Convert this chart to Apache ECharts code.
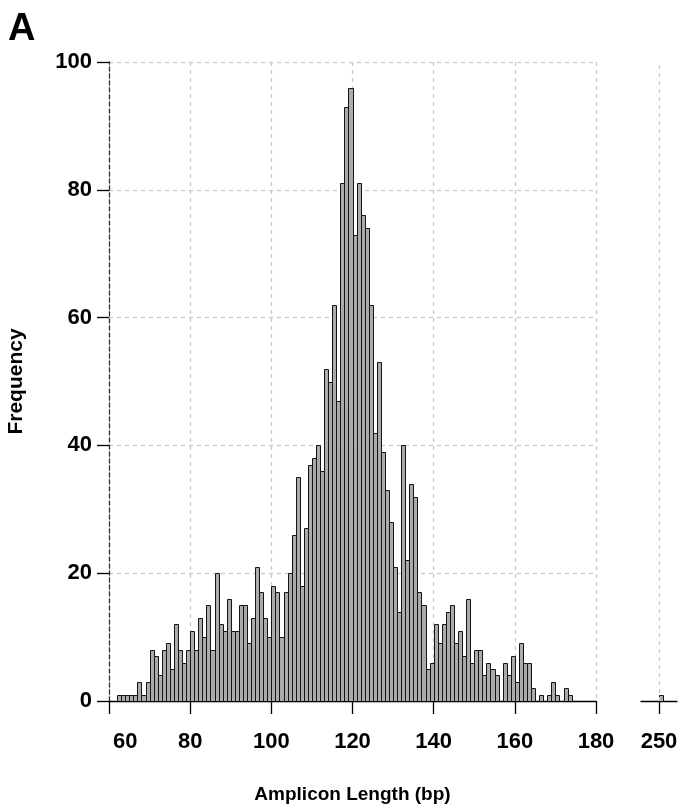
<!DOCTYPE html>
<html>
<head>
<meta charset="utf-8">
<script src="https://cdn.jsdelivr.net/npm/echarts@6/dist/echarts.min.js"></script>
<style>
  html, body { margin: 0; padding: 0; background: #ffffff; }
  #chart { width: 680px; height: 810px; }
</style>
</head>
<body>
<div id="chart"></div>
<script>
// Amplicon length bins in bp; each bin covers [length, length + 1)
const lengths = [
  62, 63, 64, 65, 66, 67, 68, 69, 70, 71, 72, 73, 74, 75, 76, 77, 78, 79,
  80, 81, 82, 83, 84, 85, 86, 87, 88, 89, 90, 91, 92, 93, 94, 95, 96, 97, 98, 99,
  100, 101, 102, 103, 104, 105, 106, 107, 108, 109, 110, 111, 112, 113, 114, 115, 116, 117, 118, 119,
  120, 121, 122, 123, 124, 125, 126, 127, 128, 129, 130, 131, 132, 133, 134, 135, 136, 137, 138, 139,
  140, 141, 142, 143, 144, 145, 146, 147, 148, 149, 150, 151, 152, 153, 154, 155, 156, 157, 158, 159,
  160, 161, 162, 163, 164, 165, 166, 167, 168, 169, 170, 171, 172, 173
];
// Number of amplicons in each length bin
const counts = [
  1, 1, 1, 1, 1, 3, 1, 3, 8, 7, 4, 8, 9, 5, 12, 8, 6, 8,
  11, 8, 13, 10, 15, 8, 20, 12, 11, 16, 11, 11, 15, 15, 9, 13, 21, 17, 13, 10,
  18, 17, 10, 17, 20, 26, 35, 18, 27, 37, 38, 40, 36, 52, 50, 62, 47, 81, 93, 96,
  73, 81, 76, 74, 62, 42, 53, 39, 33, 28, 21, 14, 40, 22, 34, 32, 17, 15, 5, 6,
  12, 9, 12, 14, 15, 9, 11, 7, 16, 6, 8, 8, 4, 6, 5, 4, 0, 6, 4, 7,
  3, 9, 6, 6, 2, 0, 1, 0, 1, 3, 1, 0, 2, 1
];
// Outlier shown after the axis break
const outlierLengths = [250];
const outlierCounts = [1];

// Axis ranges and tick spacing
const mainRange = [60, 180];
const mainStep = 20;
const breakRange = [245, 255];
const breakTicks = [250];
const freqRange = [0, 100];
const freqStep = 20;

const FONT = '"Liberation Sans", Arial, Helvetica, sans-serif';
const gridDash = [4, 4];
const gridColor = '#c9c9c9';

function renderBin(params, api) {
  const len = api.value(0);
  const n = api.value(1);
  if (!n) return null;
  const p0 = api.coord([len, 0]);
  const p1 = api.coord([len + 1, n]);
  const x0 = Math.round(p0[0]) + 0.5;
  const x1 = Math.round(p1[0]) + 0.5;
  const yTop = Math.round(p1[1]) + 0.5;
  const yBase = Math.round(p0[1]) + 0.5;
  return {
    type: 'rect',
    shape: { x: x0, y: yTop, width: x1 - x0, height: yBase - yTop },
    style: { fill: '#ababab', stroke: '#151515', lineWidth: 1 }
  };
}

const labelStyle = { color: '#000', fontFamily: FONT, fontWeight: 'bold', fontSize: 22 };
const titleStyle = { color: '#000', fontFamily: FONT, fontWeight: 'bold', fontSize: 19 };

const chart = echarts.init(document.getElementById('chart'), null, { renderer: 'canvas' });
chart.setOption({
  animation: false,
  backgroundColor: '#ffffff',
  graphic: [{
    type: 'text', left: 8, top: 11,
    style: { text: 'A', fill: '#000', font: 'bold 38px ' + FONT }
  }],
  grid: [
    { left: 109, right: 84, top: 62, bottom: 109, containLabel: false, outerBoundsMode: 'none' },
    { left: 641, right: 3, top: 62, bottom: 109, containLabel: false, outerBoundsMode: 'none' }
  ],
  xAxis: [
    {
      type: 'value', gridIndex: 0,
      min: mainRange[0], max: mainRange[1], interval: mainStep,
      axisLine: { show: true, onZero: false, lineStyle: { color: '#000', width: 1.3 } },
      axisTick: { show: true, length: 13, lineStyle: { color: '#000', width: 1.3 } },
      axisLabel: Object.assign({
        margin: 30,
        alignMinLabel: 'left',
        // first label sits just right of the frequency axis
        formatter: v => (v === mainRange[0] ? '{lead|' + v + '}' : String(v)),
        rich: { lead: Object.assign({ padding: [0, 0, 0, 4] }, labelStyle) }
      }, labelStyle),
      splitLine: { show: true, lineStyle: { color: gridColor, type: gridDash, width: 1.3 } },
      name: 'Amplicon Length (bp)', nameLocation: 'middle', nameGap: 84,
      nameTextStyle: titleStyle
    },
    {
      type: 'value', gridIndex: 1,
      min: breakRange[0], max: breakRange[1], interval: 5,
      axisLine: { show: true, onZero: false, lineStyle: { color: '#000', width: 1.3 } },
      axisTick: { show: true, length: 13, customValues: breakTicks, lineStyle: { color: '#000', width: 1.3 } },
      axisLabel: Object.assign({ margin: 30, customValues: breakTicks }, labelStyle),
      splitLine: { show: false }
    }
  ],
  yAxis: [
    {
      type: 'value', gridIndex: 0,
      min: freqRange[0], max: freqRange[1], interval: freqStep,
      axisLine: { show: true, lineStyle: { color: '#333', type: [4, 3], width: 1.3 } },
      axisTick: { show: true, length: 12, lineStyle: { color: '#000', width: 1.3 } },
      axisLabel: Object.assign({ margin: 17 }, labelStyle),
      splitLine: { show: true, lineStyle: { color: gridColor, type: gridDash, width: 1.3 } },
      name: 'Frequency', nameLocation: 'middle', nameGap: 82, nameRotate: 90,
      nameTextStyle: Object.assign({}, titleStyle, { fontSize: 21 })
    },
    {
      type: 'value', gridIndex: 1,
      min: freqRange[0], max: freqRange[1], interval: freqStep,
      show: false
    }
  ],
  series: [
    {
      type: 'custom', name: 'Amplicons', xAxisIndex: 0, yAxisIndex: 0,
      renderItem: renderBin,
      encode: { x: 0, y: 1 },
      data: lengths.map((len, i) => [len, counts[i]]),
      clip: true
    },
    {
      type: 'custom', name: 'Outlier', xAxisIndex: 1, yAxisIndex: 1,
      renderItem: renderBin,
      encode: { x: 0, y: 1 },
      data: outlierLengths.map((len, i) => [len, outlierCounts[i]]),
      markLine: {
        silent: true, symbol: ['none', 'none'], label: { show: false },
        lineStyle: { color: gridColor, type: gridDash, width: 1.3 },
        data: breakTicks.map(v => ({ xAxis: v }))
      },
      z: 3
    }
  ]
});
</script>
</body>
</html>
